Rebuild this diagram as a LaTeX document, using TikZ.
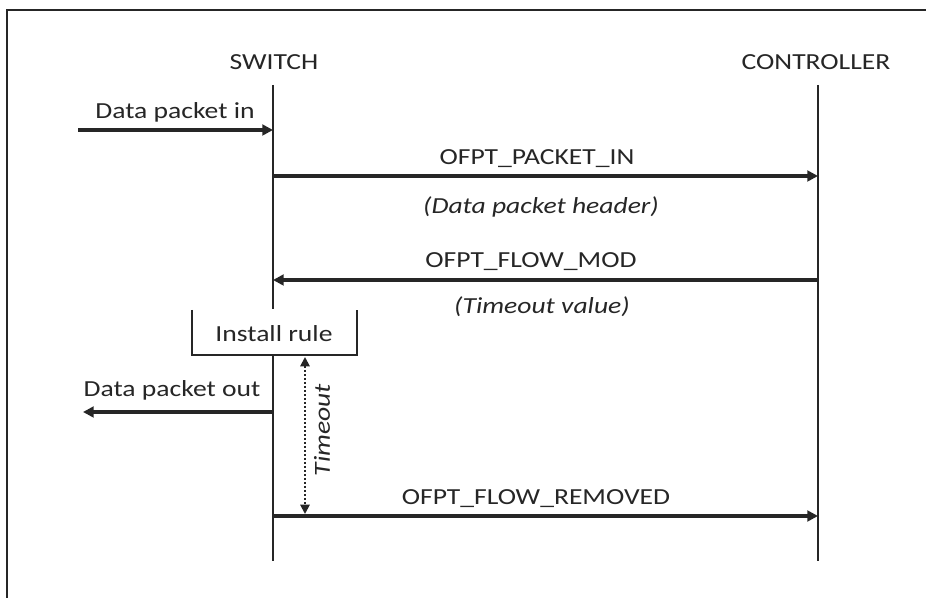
\documentclass[tikz,border=0pt]{standalone}
\usepackage{fontspec}
\setmainfont{Carlito}[FakeStretch=1.2]
\usetikzlibrary{arrows.meta}
\begin{document}
\begin{tikzpicture}[x=0.75pt,y=-0.75pt,
  every node/.style={font=\fontsize{17.25}{20}\selectfont, inner sep=0pt, text=black!85},
  life/.style={line width=2.2pt, draw=black!85},
  msg/.style={line width=2.8pt, draw=black!85, -{Triangle[length=8pt,width=8pt]}},
  lbl/.style={anchor=base},
  note/.style={anchor=base, font=\fontsize{17.25}{20}\selectfont\itshape},
  tmo/.style={line width=1.4pt, dash pattern=on 1.5pt off 1.5pt, draw=black!85, {Triangle[length=7pt,width=7pt]}-{Triangle[length=7pt,width=7pt]}},
  frm/.style={line width=1.2pt, draw=black!85}]
\useasboundingbox (0,0) rectangle (926,598);
\draw[frm] (7,598) -- (7,10) -- (926,10);

% lifelines
\node[lbl] (sw) at (274,70) {SWITCH};
\node[lbl] (ct) at (816,70) {CONTROLLER};
\coordinate (swT) at (273,85);
\coordinate (swB) at (273,561);
\coordinate (ctT) at (818,85);
\coordinate (ctB) at (818,561);
\draw[life] (swT) -- (swB);
\draw[life] (ctT) -- (ctB);

% data packet in
\coordinate (inS) at (78,130);
\coordinate (inE) at (273,130);
\draw[msg] (inS) -- (inE);
\node[lbl] (inL) at (175,119) {Data packet in};

% packet in
\coordinate (piS) at (273,176);
\coordinate (piE) at (818,176);
\draw[msg] (piS) -- (piE);
\node[lbl] (piL) at (537,165) {OFPT\_PACKET\_IN};
\node[note] (piN) at (541,214) {(Data packet header)};

% flow mod
\coordinate (fmS) at (818,280);
\coordinate (fmE) at (273,280);
\draw[msg] (fmS) -- (fmE);
\node[lbl] (fmL) at (531,268) {OFPT\_FLOW\_MOD};
\node[note] (fmN) at (542,314) {(Timeout value)};

% install rule
\fill[white] (192,309) rectangle (357,355);
\coordinate (irA) at (192,310);
\coordinate (irB) at (192,355);
\coordinate (irC) at (357,355);
\coordinate (irD) at (357,310);
\draw[line width=2pt, draw=black!85] (irA) -- (irB) -- (irC) -- (irD);
\node[lbl] (irL) at (274,342) {Install rule};

% data packet out
\coordinate (outS) at (273,412);
\coordinate (outE) at (83,412);
\draw[msg] (outS) -- (outE);
\node[lbl] (outL) at (172,397) {Data packet out};

% flow removed
\coordinate (frS) at (273,516);
\coordinate (frE) at (818,516);
\draw[msg] (frS) -- (frE);
\node[lbl] (frL) at (536,505) {OFPT\_FLOW\_REMOVED};

% timeout
\coordinate (toT) at (305,357);
\coordinate (toB) at (305,514);
\draw[tmo] (toT) -- (toB);
\node[rotate=90, font=\fontsize{17.25}{20}\selectfont\itshape] (toL) at (322,430) {Timeout};
\end{tikzpicture}
\end{document}
